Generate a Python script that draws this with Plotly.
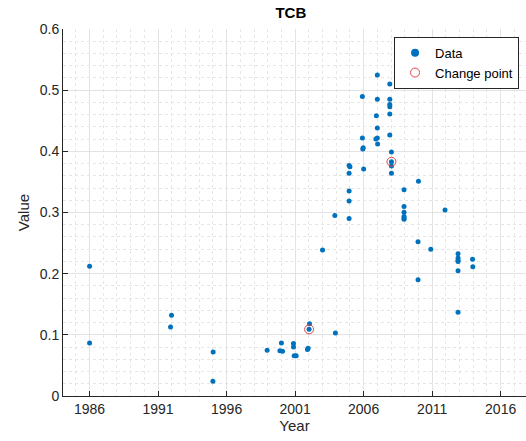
import plotly.graph_objects as go

# Data (decimal years, values)
data_years = [
    1986.0, 1986.0,
    1991.98, 1991.91,
    1995.02, 1995.0,
    1998.96,
    2000.0, 1999.89, 2000.08,
    2000.88, 2000.88, 2000.93, 2001.08,
    2001.95, 2001.9, 2002.05, 2002.02,
    2003.0,
    2003.9, 2003.94,
    2004.94, 2004.94, 2004.94, 2004.94, 2004.94, 2005.0,
    2005.91, 2005.91, 2005.97, 2005.94, 2006.0,
    2007.0, 2007.0, 2006.93, 2007.0, 2006.89, 2007.0, 2007.02,
    2007.91, 2007.91, 2007.91, 2007.91, 2007.91, 2007.91, 2008.03, 2008.03, 2008.03, 2008.03,
    2008.95, 2008.95, 2008.95, 2008.95, 2008.95, 2008.95,
    2010.0, 2009.97, 2009.97,
    2010.9,
    2011.94,
    2012.89, 2012.89, 2012.89, 2012.89, 2012.89, 2012.89,
    2013.95, 2013.97,
]
data_values = [
    0.212, 0.0866,
    0.132, 0.113,
    0.072, 0.024,
    0.075,
    0.0866, 0.074, 0.073,
    0.086, 0.080, 0.066, 0.066,
    0.078, 0.076, 0.118, 0.109,
    0.2386,
    0.295, 0.103,
    0.290, 0.319, 0.335, 0.364, 0.377, 0.375,
    0.4897, 0.422, 0.406, 0.404, 0.371,
    0.525, 0.485, 0.458, 0.438, 0.420, 0.4216, 0.412,
    0.510, 0.485, 0.4766, 0.473, 0.461, 0.4265, 0.399, 0.383, 0.376, 0.364,
    0.337, 0.310, 0.3006, 0.2935, 0.291, 0.289,
    0.351, 0.252, 0.190,
    0.240,
    0.304,
    0.2325, 0.2255, 0.222, 0.220, 0.2048, 0.137,
    0.2234, 0.2113,
]

change_years = [2002.02, 2008.03]
change_values = [0.109, 0.383]

x_ticks = [1986, 1991, 1996, 2001, 2006, 2011, 2016]
y_ticks = [0, 0.1, 0.2, 0.3, 0.4, 0.5, 0.6]

BLUE = "#0072BD"
RED = "#E0474C"
AX = "#262626"
FONT = "Liberation Sans, Arial, sans-serif"

fig = go.Figure()
fig.add_trace(go.Scatter(
    x=data_years, y=data_values, mode="markers",
    marker=dict(size=5, color=BLUE), showlegend=False, name="Data"))
fig.add_trace(go.Scatter(
    x=change_years, y=change_values, mode="markers",
    marker=dict(size=9, color=RED, symbol="circle-open",
                line=dict(color=RED, width=1)), showlegend=False, name="Change point"))
# legend entries
fig.add_trace(go.Scatter(x=[None], y=[None], mode="markers", name="Data",
                         marker=dict(size=8, color=BLUE)))
fig.add_trace(go.Scatter(x=[None], y=[None], mode="markers", name="Change point",
                         marker=dict(size=9, symbol="circle-open", color=RED,
                                     line=dict(color=RED, width=1))))

axis_common = dict(
    showline=True, linecolor=AX, linewidth=1, ticks="inside", ticklen=5,
    tickcolor=AX, zeroline=False, showgrid=True, gridcolor="#E3E3E3", gridwidth=1,
    tickfont=dict(size=14, color=AX, family=FONT), mirror=False,
)

fig.update_layout(
    width=526, height=441,
    margin=dict(l=63, r=0, t=29, b=45),
    plot_bgcolor="white", paper_bgcolor="white",
    font=dict(family=FONT, color=AX),
    title=dict(text="<b>TCB</b>", x=0.553, xanchor="center", y=0.972, yanchor="middle",
               font=dict(size=15, color="#000000", family=FONT)),
    xaxis=dict(range=[1984.06, 2017.85], tickvals=x_ticks,
               ticktext=[str(v) for v in x_ticks],
               title=dict(text="Year", font=dict(size=15, color=AX), standoff=3),
               minor=dict(dtick=1, tick0=1986, showgrid=True, griddash="dot",
                          gridcolor="#E6E6E6", gridwidth=1, ticks=""),
               **axis_common),
    yaxis=dict(range=[0, 0.6], tickvals=y_ticks,
               ticktext=["0", "0.1", "0.2", "0.3", "0.4", "0.5", "0.6"],
               title=dict(text="Value", font=dict(size=15, color=AX), standoff=6),
               minor=dict(dtick=0.02, tick0=0, showgrid=True, griddash="dot",
                          gridcolor="#E6E6E6", gridwidth=1, ticks=""),
               **axis_common),
    legend=dict(x=0.985, y=0.979, xanchor="right", yanchor="top",
                bgcolor="white", bordercolor=AX, borderwidth=1,
                font=dict(size=13, color="#000000", family=FONT),
                itemwidth=30, tracegroupgap=0),
)

fig.write_html("out.html")
